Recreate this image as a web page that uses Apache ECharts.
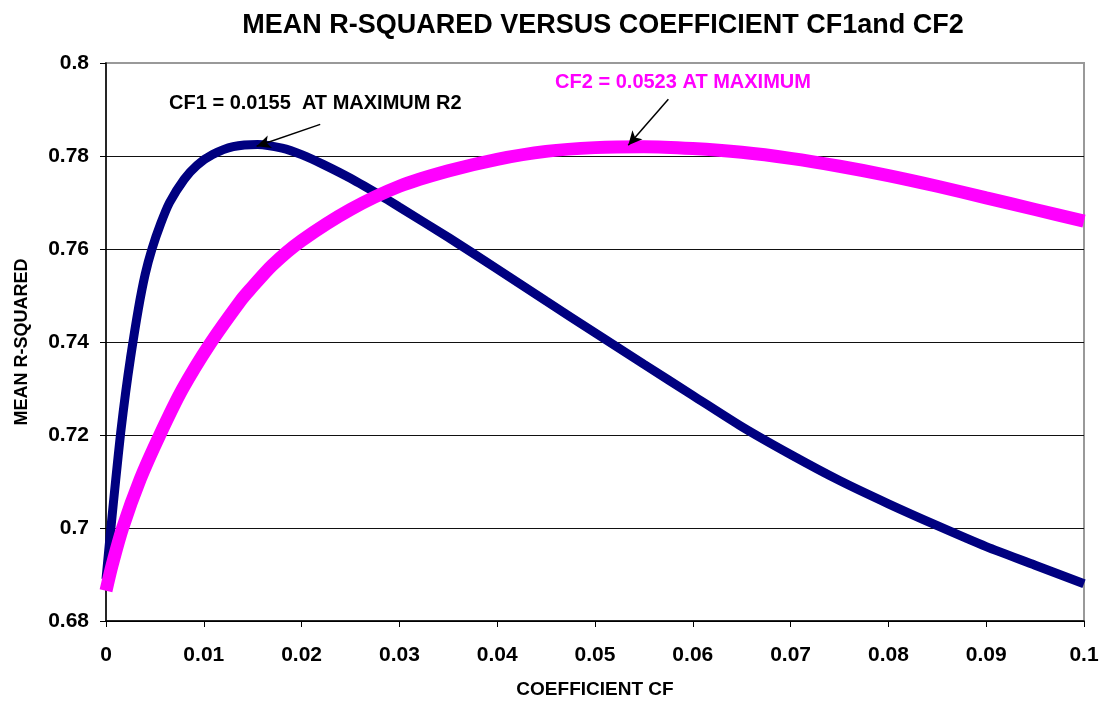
<!DOCTYPE html>
<html>
<head>
<meta charset="utf-8">
<title>Mean R-squared versus coefficient CF1 and CF2</title>
<script src="https://cdn.jsdelivr.net/npm/echarts@6/dist/echarts.min.js"></script>
<style>
  html, body { margin: 0; padding: 0; background: #fff; }
  #chart { width: 1106px; height: 706px; }
</style>
</head>
<body>
<div id="chart"></div>
<script>
// values: [CF, mean R-squared]
const cf1Points = [
  [0, 0.689], [0.0005, 0.700], [0.001, 0.7105], [0.0015, 0.7205], [0.002, 0.729],
  [0.0025, 0.7365], [0.0033, 0.747], [0.004, 0.7545], [0.0047, 0.760], [0.0056, 0.7655],
  [0.0065, 0.770], [0.008, 0.775], [0.0093, 0.778], [0.0109, 0.7803], [0.013, 0.782],
  [0.0155, 0.7825], [0.018, 0.7817], [0.020, 0.7803], [0.0222, 0.7782], [0.025, 0.7752],
  [0.0283, 0.7712], [0.030, 0.769], [0.035, 0.7625], [0.040, 0.7557], [0.045, 0.7488],
  [0.050, 0.742], [0.055, 0.7352], [0.060, 0.7285], [0.065, 0.7218], [0.070, 0.7158],
  [0.075, 0.7102], [0.080, 0.7052], [0.085, 0.7005], [0.090, 0.696], [0.095, 0.692],
  [0.100, 0.688],
]
const cf2Points = [
  [0, 0.6865], [0.0006, 0.6918], [0.0017, 0.700], [0.0035, 0.7105], [0.0055, 0.720],
  [0.0078, 0.7298], [0.0106, 0.7395], [0.0137, 0.7487], [0.0147, 0.7512], [0.017, 0.7565],
  [0.020, 0.7618], [0.025, 0.7685], [0.030, 0.7735], [0.035, 0.7768], [0.040, 0.7793],
  [0.045, 0.781], [0.050, 0.7818], [0.055, 0.782], [0.060, 0.7816], [0.065, 0.7808],
  [0.070, 0.7795], [0.075, 0.7778], [0.080, 0.7758], [0.085, 0.7735], [0.090, 0.771],
  [0.095, 0.7685], [0.100, 0.766],
]

const xRange = { min: 0, max: 0.1, step: 0.01 }
const yRange = { min: 0.68, max: 0.8, step: 0.02 }

// 注释文字和箭头 (数据坐标)
const cf1Note = { text: 'CF1 = 0.0155  AT MAXIMUM R2', at: [0.0214, 0.7912], from: [0.0219, 0.7868], to: [0.0154, 0.7821] }
const cf2Note = { text: 'CF2 = 0.0523 AT MAXIMUM', at: [0.059, 0.7959], from: [0.0575, 0.7922], to: [0.0534, 0.7823] }

const FONT = 'Liberation Sans, Arial, sans-serif'

function noteLabel(note, color) {
  return {
    coord: note.at,
    symbol: 'circle',
    symbolSize: 1,
    itemStyle: { color: 'transparent' },
    label: {
      show: true,
      position: 'inside',
      formatter: note.text,
      color,
      fontFamily: FONT,
      fontWeight: 'bold',
      fontSize: 20,
    },
  }
}

const chart = echarts.init(document.getElementById('chart'))
chart.setOption({
  animation: false,
  backgroundColor: '#fff',
  title: {
    text: 'MEAN R-SQUARED VERSUS COEFFICIENT CF1and CF2',
    left: 598,
    textAlign: 'center',
    top: 7,
    textStyle: { fontFamily: FONT, fontWeight: 'bold', fontSize: 27, color: '#000' },
  },
  grid: {
    left: 106, right: 22, top: 63, bottom: 85,
    show: true, borderColor: '#999', borderWidth: 2, backgroundColor: '#fff',
  },
  xAxis: {
    type: 'value',
    min: xRange.min, max: xRange.max, interval: xRange.step,
    name: 'COEFFICIENT CF',
    nameLocation: 'middle',
    nameGap: 59,
    nameTextStyle: { fontFamily: FONT, fontWeight: 'bold', fontSize: 19, color: '#000' },
    axisLine: { show: true, onZero: false, lineStyle: { color: '#000', width: 1.5 } },
    axisTick: { show: true, length: 6, lineStyle: { color: '#000' } },
    axisLabel: { margin: 24, fontFamily: FONT, fontWeight: 'bold', fontSize: 21, color: '#000' },
    splitLine: { show: false },
  },
  yAxis: {
    type: 'value',
    min: yRange.min, max: yRange.max, interval: yRange.step,
    name: 'MEAN R-SQUARED',
    nameLocation: 'middle',
    nameGap: 75,
    nameTextStyle: { fontFamily: FONT, fontWeight: 'bold', fontSize: 18, color: '#000' },
    axisLine: { show: true, onZero: false, lineStyle: { color: '#000', width: 1.5 } },
    axisTick: { show: true, length: 6, lineStyle: { color: '#000' } },
    axisLabel: { margin: 17, fontFamily: FONT, fontWeight: 'bold', fontSize: 21, color: '#000' },
    splitLine: {
      show: true,
      lineStyle: { color: ['#000', '#111', '#111', '#111', '#111', '#111', '#999'], width: 1 },
    },
  },
  series: [
    {
      name: 'CF1',
      type: 'line',
      data: cf1Points,
      showSymbol: false,
      smooth: 0.25,
      clip: false,
      lineStyle: { color: '#000080', width: 9 },
      itemStyle: { color: '#000080' },
      markPoint: { silent: true, data: [noteLabel(cf1Note, '#000')] },
      markLine: {
        silent: true,
        symbol: ['none', 'arrow'],
        symbolSize: [10, 14],
        label: { show: false },
        lineStyle: { color: '#000', width: 1.5, type: 'solid' },
        data: [[{ coord: cf1Note.from }, { coord: cf1Note.to }]],
      },
    },
    {
      name: 'CF2',
      type: 'line',
      data: cf2Points,
      showSymbol: false,
      smooth: 0.25,
      clip: false,
      lineStyle: { color: '#ff00ff', width: 13, cap: 'butt' },
      itemStyle: { color: '#ff00ff' },
      markPoint: { silent: true, data: [noteLabel(cf2Note, '#ff00ff')] },
      markLine: {
        silent: true,
        symbol: ['none', 'arrow'],
        symbolSize: [10, 14],
        label: { show: false },
        lineStyle: { color: '#000', width: 1.5, type: 'solid' },
        data: [[{ coord: cf2Note.from }, { coord: cf2Note.to }]],
      },
    },
  ],
})
window.addEventListener('resize', () => chart.resize())
</script>
</body>
</html>
